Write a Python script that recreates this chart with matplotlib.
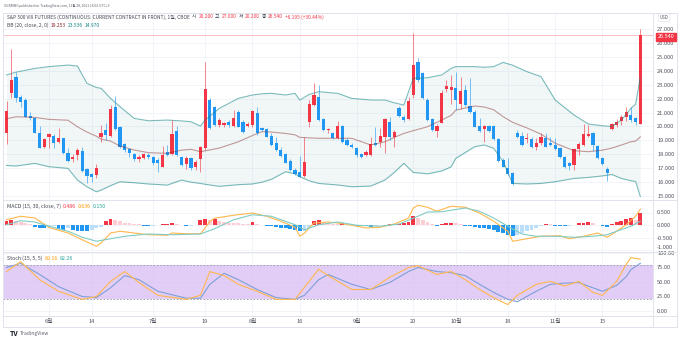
import numpy as np
import pandas as pd
import matplotlib
matplotlib.use("Agg")
import matplotlib.pyplot as plt
from matplotlib.lines import Line2D

plt.rcParams['font.family'] = ['Noto Sans CJK KR', 'DejaVu Sans']

# trading days (CFE closed on these)
holidays = pd.to_datetime(["2021-05-31", "2021-07-05", "2021-09-06", "2021-11-25"])
days = pd.bdate_range("2021-05-18", "2021-11-26")
days = days[~days.isin(holidays)]

# daily OHLC, front-month VIX futures
opens = [19.55, 22.38, 23.58, 22.09, 21.90, 20.75, 20.58, 19.50, 18.50, 19.22,
         19.31, 18.91, 19.15, 18.12, 17.66, 17.95, 18.24, 16.92, 16.56, 16.51,
         19.27, 19.74, 19.31, 21.37, 19.94, 18.71, 18.36, 17.99, 17.64, 17.71,
         17.95, 17.78, 17.59, 17.11, 18.14, 18.02, 19.70, 17.78, 17.30, 17.71,
         17.06, 17.64, 18.43, 21.90, 21.37, 20.10, 20.10, 20.32, 20.03, 21.06,
         20.34, 20.03, 20.10, 20.94, 19.91, 19.79, 19.31, 18.79, 18.31, 18.00,
         17.54, 16.87, 16.70, 16.44, 20.34, 21.54, 22.14, 20.51, 19.74, 19.50,
         19.15, 20.03, 19.03, 18.67, 18.43, 18.02, 17.95, 17.95, 18.84, 18.91,
         19.22, 20.34, 19.22, 21.30, 20.70, 20.51, 22.26, 24.65, 23.81, 21.90,
         20.51, 19.70, 20.27, 22.67, 22.62, 22.74, 21.61, 22.62, 21.47, 21.06,
         20.03, 19.79, 20.03, 20.03, 19.07, 17.59, 16.99, 16.68, 19.50, 19.31,
         19.07, 19.07, 18.50, 18.84, 19.15, 18.84, 18.67, 18.43, 17.83, 17.35,
         17.23, 18.36, 18.67, 19.31, 19.55, 18.60, 17.71, 16.92, 19.79, 20.10,
         20.41, 20.65, 20.82, 20.58, 20.20]
highs = [21.83, 25.56, 23.94, 22.26, 22.02, 21.06, 20.70, 20.03, 19.15, 19.50,
         19.43, 19.86, 19.19, 18.43, 17.99, 18.43, 18.55, 16.99, 16.68, 17.28,
         20.10, 20.22, 21.54, 22.19, 20.03, 18.83, 18.43, 18.07, 17.95, 18.12,
         18.07, 17.88, 17.71, 18.60, 18.67, 20.46, 20.03, 17.88, 17.88, 17.83,
         17.59, 18.60, 24.65, 22.02, 21.50, 20.58, 20.34, 20.50, 21.18, 21.18,
         20.46, 20.34, 21.18, 21.37, 19.98, 19.86, 19.50, 19.27, 18.55, 18.12,
         17.64, 16.99, 17.88, 19.27, 21.90, 23.10, 22.98, 20.58, 19.86, 19.62,
         20.41, 20.10, 19.15, 18.79, 18.55, 18.12, 18.31, 19.27, 19.98, 19.86,
         20.58, 20.70, 19.74, 21.47, 20.82, 22.14, 26.69, 24.89, 23.94, 22.02,
         20.58, 20.15, 22.62, 23.34, 23.70, 23.94, 23.58, 23.00, 23.46, 21.18,
         20.58, 20.10, 20.10, 20.10, 19.15, 17.71, 17.71, 16.75, 19.74, 19.62,
         19.50, 19.27, 19.15, 19.50, 19.50, 19.27, 19.15, 18.55, 17.88, 17.47,
         18.43, 18.91, 20.17, 20.10, 19.62, 18.67, 17.83, 17.11, 20.27, 20.51,
         20.82, 21.40, 21.42, 20.70, 27.00]
lows = [18.74, 22.02, 21.78, 21.42, 20.65, 20.46, 19.50, 18.43, 18.43, 18.43,
        18.43, 18.79, 17.99, 17.47, 17.47, 17.59, 16.75, 15.96, 16.03, 16.27,
        18.91, 19.03, 19.22, 19.75, 18.43, 18.19, 17.83, 17.54, 17.47, 17.64,
        17.64, 17.23, 16.75, 17.06, 17.88, 17.95, 17.88, 17.16, 16.92, 16.87,
        16.87, 16.75, 18.31, 19.79, 20.05, 19.98, 19.98, 19.98, 19.98, 19.93,
        19.55, 19.98, 19.98, 19.39, 19.70, 19.22, 18.60, 18.26, 17.78, 17.35,
        16.82, 16.51, 16.34, 16.39, 19.93, 21.47, 20.41, 19.70, 19.50, 19.07,
        19.10, 18.83, 18.60, 18.43, 17.83, 17.71, 17.88, 17.88, 18.60, 18.55,
        18.07, 19.03, 18.55, 20.65, 20.34, 20.46, 22.02, 23.22, 21.95, 20.41,
        19.70, 19.22, 20.22, 22.50, 21.60, 21.18, 21.23, 21.50, 20.99, 19.93,
        19.62, 18.91, 19.60, 19.03, 17.47, 17.06, 16.51, 15.79, 19.15, 18.60,
        18.79, 18.43, 18.31, 18.67, 18.50, 18.60, 18.31, 17.71, 16.99, 16.87,
        16.87, 17.95, 18.60, 19.22, 18.26, 17.64, 17.23, 16.10, 19.74, 19.98,
        20.10, 20.40, 20.35, 20.10, 20.20]
closes = [21.11, 23.34, 22.02, 21.73, 20.70, 20.58, 19.55, 18.47, 19.07, 19.43,
          18.83, 19.19, 18.07, 17.54, 17.83, 18.31, 16.82, 16.44, 16.34, 17.04,
          19.51, 19.39, 21.25, 19.82, 18.50, 18.31, 18.07, 17.64, 17.83, 18.02,
          17.78, 17.40, 17.35, 17.95, 17.95, 19.46, 17.95, 17.23, 17.71, 16.99,
          17.45, 18.55, 22.67, 19.86, 20.10, 20.46, 20.26, 20.08, 20.58, 19.98,
          19.62, 20.17, 21.11, 19.50, 19.74, 19.27, 18.67, 18.31, 17.88, 17.40,
          16.87, 16.58, 16.39, 17.47, 21.61, 22.26, 20.46, 19.74, 19.79, 19.15,
          20.03, 18.91, 18.67, 18.55, 17.95, 17.83, 18.19, 18.74, 18.67, 19.31,
          20.51, 19.27, 19.62, 20.75, 20.46, 21.85, 24.41, 23.34, 22.02, 20.46,
          19.74, 20.03, 22.43, 22.91, 22.81, 21.90, 22.57, 21.54, 21.06, 19.98,
          19.67, 20.03, 19.67, 19.07, 17.54, 17.11, 16.58, 15.87, 19.22, 18.67,
          19.15, 18.50, 18.79, 19.27, 18.55, 18.67, 18.36, 17.78, 17.06, 17.16,
          18.36, 18.74, 19.46, 19.46, 18.67, 17.71, 17.30, 16.68, 20.17, 20.34,
          20.70, 21.06, 20.46, 20.35, 26.54]

# Bollinger Bands (20, close, 2)
bb_idx = [0, 2, 6, 9, 13, 15, 17, 19, 20, 22, 24, 27, 30, 34, 37, 39, 41, 42, 45, 49,
          52, 54, 56, 59, 61, 62, 64, 66, 70, 73, 77, 80, 82, 84, 86, 89, 92, 94, 95, 99,
          101, 103, 105, 107, 110, 113, 116, 120, 123, 126, 128, 130, 132, 133, 134]
bb_upper = [23.7, 23.9, 24.17, 24.3, 24.41, 24.34, 23.1, 22.8, 22.74, 22.02,
            21.42, 20.58, 20.41, 20.46, 20.4, 20.34, 20.03, 20.46, 21.3, 22.02,
            22.26, 22.35, 22.38, 22.26, 22.38, 21.9, 22.3, 22.5, 22.38, 22.02,
            21.9, 21.9, 21.7, 21.54, 23.46, 23.5, 23.7, 24.17, 24.3, 24.3,
            24.25, 24.3, 24.6, 24.4, 23.94, 23.58, 21.9, 20.82, 20.18, 20.05,
            20.0, 20.46, 21.3, 21.6, 23.536]
bb_lower = [17.2, 17.16, 17.35, 17.11, 16.99, 16.15, 15.67, 15.31, 15.43, 15.75,
            16.03, 15.96, 15.87, 15.79, 16.15, 16.0, 15.91, 15.85, 15.7, 15.82,
            15.87, 16.0, 16.2, 16.75, 16.6, 16.39, 16.1, 15.91, 15.8, 15.67,
            15.72, 16.15, 16.7, 17.35, 16.7, 16.6, 16.8, 17.1, 17.71, 18.55,
            18.67, 18.43, 17.47, 15.91, 15.87, 15.91, 16.03, 16.27, 16.34, 16.45,
            16.55, 16.27, 16.1, 16.05, 14.97]
bb_basis = [20.55, 20.7, 20.65, 20.51, 20.45, 19.98, 19.6, 19.3, 19.1, 18.95,
            18.6, 18.31, 18.12, 18.07, 18.3, 18.36, 18.19, 18.25, 18.45, 18.9,
            19.35, 19.63, 19.6, 19.5, 19.4, 19.22, 19.18, 19.15, 19.15, 19.15,
            18.67, 18.9, 19.22, 19.5, 19.7, 19.98, 20.46, 20.8, 21.18, 21.47,
            21.4, 21.2, 20.7, 20.3, 19.9, 19.45, 18.8, 18.26, 18.19, 18.3,
            18.45, 18.67, 18.9, 18.95, 19.253]

# MACD (15, 30, close, 7)
macd_hist = [0.18, 0.21, 0.15, 0.12, 0.09, 0.06, -0.08, -0.10, -0.10, -0.06,
             -0.05, -0.15, -0.18, -0.10, -0.20, -0.22, -0.24, -0.25, -0.20, -0.12,
             -0.06, 0.18, 0.24, 0.20, 0.15, 0.10, 0.08, 0.06, 0.04, -0.02,
             -0.03, -0.02, 0.02, 0.03, 0.06, 0.10, 0.05, 0.02, -0.03, -0.02,
             0.01, 0.20, 0.26, 0.22, 0.25, 0.18, 0.14, 0.10, 0.09, 0.07,
             0.06, 0.05, 0.11, 0.06, 0.02, -0.03, -0.05, -0.07, -0.10, -0.12,
             -0.14, -0.18, -0.25, -0.22, -0.10, 0.18, 0.19, 0.12, 0.08, 0.06,
             0.05, 0.07, 0.02, 0.00, -0.02, -0.03, -0.05, -0.06, -0.03, -0.01,
             0.00, 0.03, 0.04, 0.06, 0.09, 0.12, 0.35, 0.30, 0.22, 0.13,
             0.05, -0.03, 0.06, 0.09, 0.10, 0.07, 0.04, -0.02, -0.05, -0.08,
             -0.10, -0.13, -0.17, -0.21, -0.26, -0.31, -0.38, -0.45, -0.38, -0.30,
             -0.24, -0.18, -0.10, -0.04, 0.04, 0.03, -0.02, -0.04, -0.05, -0.03,
             0.02, 0.07, 0.10, 0.11, 0.07, 0.02, -0.04, -0.06, 0.05, 0.12,
             0.18, 0.25, 0.28, 0.22, 0.486]
macd_idx = [0, 3, 6, 9, 13, 16, 19, 20, 22, 24, 27, 30, 34, 35, 38, 41, 42, 43, 44,
            48, 52, 55, 58, 61, 62, 63, 65, 68, 70, 73, 76, 79, 82, 85, 86, 87, 89,
            91, 94, 97, 100, 103, 106, 107, 110, 113, 117, 119, 122, 125, 127, 129,
            131, 133, 134]
macd_line = [0.21, 0.35, 0.28, -0.1, -0.32, -0.59, -0.85, -0.72, -0.32, -0.25,
             -0.32, -0.39, -0.41, -0.32, -0.35, -0.35, -0.12, 0.15, 0.27, 0.39,
             0.48, 0.35, 0.15, -0.09, -0.45, -0.32, 0.08, 0.12, 0.08, -0.01,
             -0.12, -0.09, 0.04, 0.28, 0.68, 0.79, 0.71, 0.55, 0.75, 0.71,
             0.48, 0.15, -0.25, -0.65, -0.55, -0.45, -0.43, -0.55, -0.45, -0.32,
             -0.49, -0.25, 0.01, 0.35, 0.636]
signal_idx = [0, 3, 6, 9, 13, 16, 19, 22, 25, 30, 35, 41, 44, 48, 52, 56, 61, 63, 66,
              70, 74, 79, 83, 87, 89, 92, 97, 100, 103, 106, 109, 112, 116, 120, 124,
              127, 129, 132, 134]
signal_line = [0.01, 0.17, 0.12, -0.05, -0.25, -0.49, -0.65, -0.55, -0.45, -0.36,
               -0.39, -0.36, -0.15, 0.21, 0.41, 0.35, 0.01, -0.19, 0.01, 0.12,
               -0.01, -0.05, 0.04, 0.35, 0.52, 0.53, 0.68, 0.55, 0.28, -0.05,
               -0.36, -0.45, -0.45, -0.49, -0.45, -0.39, -0.25, -0.05, 0.15]

# Stochastic (15, 5, 5)
st_idx = [0, 3, 7, 11, 16, 19, 22, 25, 28, 32, 38, 41, 43, 46, 49, 53, 57, 61, 63, 66,
          68, 73, 77, 81, 85, 87, 91, 94, 97, 100, 103, 106, 108, 112, 115, 118, 121,
          124, 126, 129, 131, 132, 134]
st_k = [68, 85, 54, 34, 20, 25, 51, 68, 49, 27, 20, 27, 68, 61, 46, 34, 20, 20, 41, 72,
        61, 37, 37, 58, 75, 78, 63, 68, 54, 37, 23, 11, 27, 46, 51, 43, 51, 32, 27, 51,
        80, 92, 89.16]
st_d = [75, 82, 63, 42, 25, 23, 40, 61, 54, 34, 22, 22, 46, 65, 54, 37, 23, 20, 27, 54,
        63, 46, 37, 49, 68, 75, 68, 66, 61, 46, 32, 20, 16, 34, 46, 48, 49, 40, 34, 44,
        59, 71, 82.26]

tick_dates = ["2021-06-01", "2021-06-14", "2021-07-01", "2021-07-19", "2021-08-02",
              "2021-08-16", "2021-09-01", "2021-09-20", "2021-10-01", "2021-10-18",
              "2021-11-01", "2021-11-15"]
tick_labels = ["6월", "14", "7월", "19", "8월", "16", "9월", "20", "10월", "18", "11월", "15"]

RED = "#f23645"
BLUE = "#2196f3"
PINK = "#ffcdd2"
LBLUE = "#bbdefb"
TEAL = "#138484"
BASIS = "#872323"
ORANGE = "#ffb74d"
SIGTEAL = "#80cbc4"
STBLUE = "#7e9fd8"
TXT = "#434651"
AXTXT = "#50535e"
GRID = "#f0f3fa"
FRAME = "#e0e3eb"

W, H = 680, 342
fig = plt.figure(figsize=(W / 100, H / 100), dpi=100)
fig.patch.set_facecolor("white")


def px_axes(x0, y0, x1, y1):
    return fig.add_axes([x0 / W, 1 - y1 / H, (x1 - x0) / W, (y1 - y0) / H])


X0, X1 = 3, 653
xlim = ((X0 - 6.5) / 4.73, (X1 - 6.5) / 4.73)
ax = px_axes(X0, 13, X1, 200)
ax_m = px_axes(X0, 200, X1, 252)
ax_s = px_axes(X0, 252, X1, 315.5)

idx = np.arange(len(days))
tick_pos = [days.get_loc(pd.Timestamp(d)) for d in tick_dates]

for a in (ax, ax_m, ax_s):
    a.set_xlim(*xlim)
    a.set_facecolor("none")
    for s in a.spines.values():
        s.set_visible(False)
    a.yaxis.tick_right()
    a.tick_params(axis="y", length=0, pad=3, labelsize=4.1, labelcolor=AXTXT)
    a.tick_params(axis="x", length=0)
    a.set_xticks(tick_pos)
    a.set_xticklabels([])
    a.grid(True, color=GRID, lw=0.6)
    a.set_axisbelow(True)

# price panel
ax.set_ylim(14.72, 28.15)
ax.set_yticks(np.arange(15, 28))
ax.yaxis.set_major_formatter(matplotlib.ticker.FormatStrFormatter("%.3f"))

ax.fill_between(bb_idx, bb_lower, bb_upper, color="#198787", alpha=0.06, lw=0)
ax.plot(bb_idx, bb_upper, color=TEAL, lw=0.8, alpha=0.55)
ax.plot(bb_idx, bb_lower, color=TEAL, lw=0.8, alpha=0.55)
ax.plot(bb_idx, bb_basis, color=BASIS, lw=0.8, alpha=0.45)

o, h, l, c = map(np.array, (opens, highs, lows, closes))
cols = np.where(c >= o, RED, BLUE)
ax.vlines(idx, l, h, colors=cols, lw=0.6, alpha=0.7)
ax.bar(idx, np.maximum(np.abs(c - o), 0.05), bottom=np.minimum(o, c), width=0.68,
       color=cols, lw=0)
ax.axhline(closes[-1], color=RED, lw=0.6, alpha=0.35)

# MACD panel
ax_m.set_ylim(-1.08, 1.0)
ax_m.set_yticks([0.5, 0, -0.5, -1.0])
ax_m.yaxis.set_major_formatter(matplotlib.ticker.FormatStrFormatter("%.3f"))
hist_cols = []
prev = macd_hist[0] - 0.01
for v in macd_hist:
    if v >= 0:
        hist_cols.append(RED if v > prev else PINK)
    else:
        hist_cols.append(LBLUE if v > prev else BLUE)
    prev = v
ax_m.bar(idx, macd_hist, width=0.82, color=hist_cols, lw=0)
ax_m.plot(macd_idx, macd_line, color=ORANGE, lw=0.8)
ax_m.plot(signal_idx, signal_line, color=SIGTEAL, lw=0.8)

# the lowest MACD label sits on the pane border; lift it above the stoch label
ax_m.get_yticklabels()[-1].set_verticalalignment("bottom")

# Stochastic panel
ax_s.set_ylim(-7.8, 101.7)
ax_s.set_yticks([0, 25, 50, 75, 100])
ax_s.yaxis.set_major_formatter(matplotlib.ticker.FormatStrFormatter("%.2f"))
ax_s.axhspan(20, 80, color="#d7b8f3", alpha=0.7, lw=0)
ax_s.axhline(80, color="#9598a1", lw=0.6, dashes=(2, 2))
ax_s.axhline(20, color="#9598a1", lw=0.6, dashes=(2, 2))
ax_s.plot(st_idx, st_d, color=STBLUE, lw=0.8)
ax_s.plot(st_idx, st_k, color=ORANGE, lw=0.8)

# date labels under the bottom panel
ax_s.set_xticklabels(tick_labels)
ax_s.tick_params(axis="x", pad=2.5, labelsize=4.1, labelcolor=AXTXT)


# frame and panel separators
def hline(y, x0=X0, x1=677):
    fig.add_artist(Line2D([x0 / W, x1 / W], [1 - y / H, 1 - y / H], color=FRAME, lw=0.7))


def vline(x, y0=13, y1=327):
    fig.add_artist(Line2D([x / W, x / W], [1 - y0 / H, 1 - y1 / H], color=FRAME, lw=0.7))


for y in (13, 200, 252, 315.5, 327):
    hline(y)
for x in (X0, X1, 677):
    vline(x)

# text rows
renderer = fig.canvas.get_renderer()


def put_parts(x_px, y_px, parts, right_px, gap=2.0, size=4.0):
    # scale the row so that it ends at right_px
    probe = [fig.text(0, 0, s, fontsize=size) for s, _ in parts]
    total = sum(t.get_window_extent(renderer=renderer).width for t in probe)
    for t in probe:
        t.remove()
    size = size * (right_px - x_px - gap * (len(parts) - 1)) / total
    x = x_px
    for s, col in parts:
        t = fig.text(x / W, 1 - y_px / H, s, color=col, fontsize=size, va="center", ha="left")
        x += t.get_window_extent(renderer=renderer).width + gap


put_parts(4, 5.5, [("SURRING published on TradingView.com, 11월 28, 2021 16:02 UTC+9", "#5d606b")], 110)
put_parts(7, 17, [("S&P 500 VIX FUTURES (CONTINUOUS: CURRENT CONTRACT IN FRONT), 1일, CBOE", TXT),
                  ("시", TXT), ("20.200", RED), ("고", TXT), ("27.000", RED),
                  ("저", TXT), ("20.200", RED), ("종", TXT), ("26.540", RED),
                  ("+6.195 (+30.44%)", RED)], 322)
put_parts(7, 25.5, [("BB (20, close, 2, 0)", TXT), ("19.253", BASIS), ("23.536", TEAL),
                    ("14.970", TEAL)], 100)
put_parts(7, 206.5, [("MACD (15, 30, close, 7)", TXT), ("0.486", RED), ("0.636", "#ff9800"),
                     ("0.150", "#26a69a")], 106)
put_parts(7, 258.5, [("Stoch (15, 5, 5)", TXT), ("89.16", "#ff9800"), ("82.26", "#26a69a")], 73)

# last price tag and currency tag
fig.text(666 / W, 1 - 37 / H, "26.540", fontsize=4.0, color="white", ha="center", va="center",
         bbox=dict(boxstyle="square,pad=0.25", fc=RED, ec=RED))
fig.text(664 / W, 1 - 17.5 / H, "USD", fontsize=3.2, color=AXTXT, ha="center", va="center",
         bbox=dict(boxstyle="round,pad=0.3", fc="white", ec=FRAME, lw=0.5))

# watermark logo
fig.text(10 / W, 1 - 334 / H, "TV", fontsize=5, color="#131722", fontweight="bold", va="center")
fig.text(20 / W, 1 - 334 / H, "TradingView", fontsize=3.6, color="#5d606b", va="center")

fig.savefig("out.png", dpi=100)
